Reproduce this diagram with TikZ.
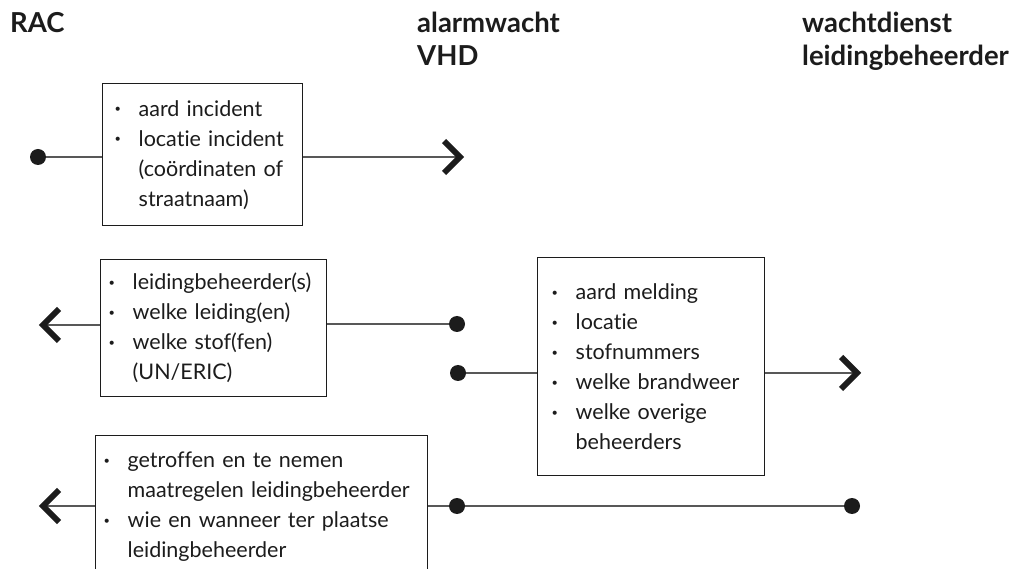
\documentclass[tikz,border=0pt]{standalone}
\usepackage{fontspec}
\setmainfont[Ligatures=NoCommon]{Lato}
\usetikzlibrary{backgrounds}
\definecolor{ink}{HTML}{1C1C1C}
\definecolor{wirec}{HTML}{585858}
\newcommand{\bl}{\makebox[24pt][l]{\raisebox{3.5pt}{\fontsize{11}{11}\selectfont\textbullet}}}
\newcommand{\ind}{\hspace*{24pt}}
\begin{document}
\begin{tikzpicture}[x=1pt,y=-1pt,
  box/.style={draw=ink, line width=1.4pt, anchor=north west, align=left,
    inner xsep=12pt, inner ysep=0pt, text=ink,
    font=\fontsize{21.5}{30}\selectfont},
  wire/.style={draw=wirec, line width=2pt},
  dotn/.style={circle, fill=ink, inner sep=0pt, minimum size=16pt},
  head/.style={anchor=north west, align=left, inner sep=0pt, text=ink,
    font=\bfseries\fontsize{27.5}{33}\selectfont},
  chev/.style={draw=ink, line width=6pt, line join=miter, line cap=butt}
]
\useasboundingbox (0,0) rectangle (1013,569);
\clip (0,0) rectangle (1013,569);

% headers
\node[head] (h1) at (10,12) {RAC};
\node[head] (h2) at (417,12) {alarmwacht\\VHD};
\node[head] (h3) at (802,12) {wachtdienst\\leidingbeheerder};

% boxes
\node[box, inner xsep=12pt, text width=176pt, minimum height=142pt] (b1) at (102,83)
  {\bl aard incident\\\bl locatie incident\\\ind(coördinaten of\\\ind straatnaam)};
\node[box, inner xsep=8pt, text width=210pt, minimum height=137pt] (b2) at (100,259)
  {\bl leidingbeheerder(s)\\\bl welke leiding(en)\\\bl welke stof(fen)\\\ind(UN/ERIC)};
\node[box, inner xsep=14pt, text width=199pt, minimum height=218pt] (b3) at (537,257)
  {\bl aard melding\\\bl locatie\\\bl stofnummers\\\bl welke brandweer\\\bl welke overige\\\ind beheerders};
\node[box, inner xsep=8pt, text width=316pt, minimum height=142pt] (b4) at (95,435)
  {\bl getroffen en te nemen\\\ind maatregelen leidingbeheerder\\\bl wie en wanneer ter plaatse\\\ind leidingbeheerder};

% dots
\node[dotn] (d1) at (38,157) {};
\node[dotn] (d2) at (457,324) {};
\node[dotn] (d3) at (458,373) {};
\node[dotn] (d4) at (457,506) {};
\node[dotn] (d5) at (852,506) {};

% arrow vertices
\coordinate (a1) at (460,157);
\coordinate (a2) at (43,325);
\coordinate (a3) at (857,373);
\coordinate (a4) at (43,506);

\begin{scope}[on background layer]
\fill[white] (0,0) rectangle (1013,569);
\draw[wire] (d1.center) -- (b1.west |- d1);
\draw[wire] (b2.east |- d2) -- (d2.center);
\draw[wire] (d3.center) -- (b3.west |- d3);
\draw[wire] (b4.east |- d4) -- (d4.center) -- (d5.center);
\draw[wire] (b1.east |- d1) -- (a1);
\draw[wire] (b2.west |- a2) -- (a2);
\draw[wire] (b3.east |- d3) -- (a3);
\draw[wire] (b4.west |- a4) -- (a4);
\end{scope}
% chevron heads
\draw[chev] ([shift={(-16,-16)}]a1) -- (a1) -- ([shift={(-16,16)}]a1);
\draw[chev] ([shift={(16,-16)}]a2) -- (a2) -- ([shift={(16,16)}]a2);
\draw[chev] ([shift={(-16,-16)}]a3) -- (a3) -- ([shift={(-16,16)}]a3);
\draw[chev] ([shift={(16,-16)}]a4) -- (a4) -- ([shift={(16,16)}]a4);
\end{tikzpicture}
\end{document}
